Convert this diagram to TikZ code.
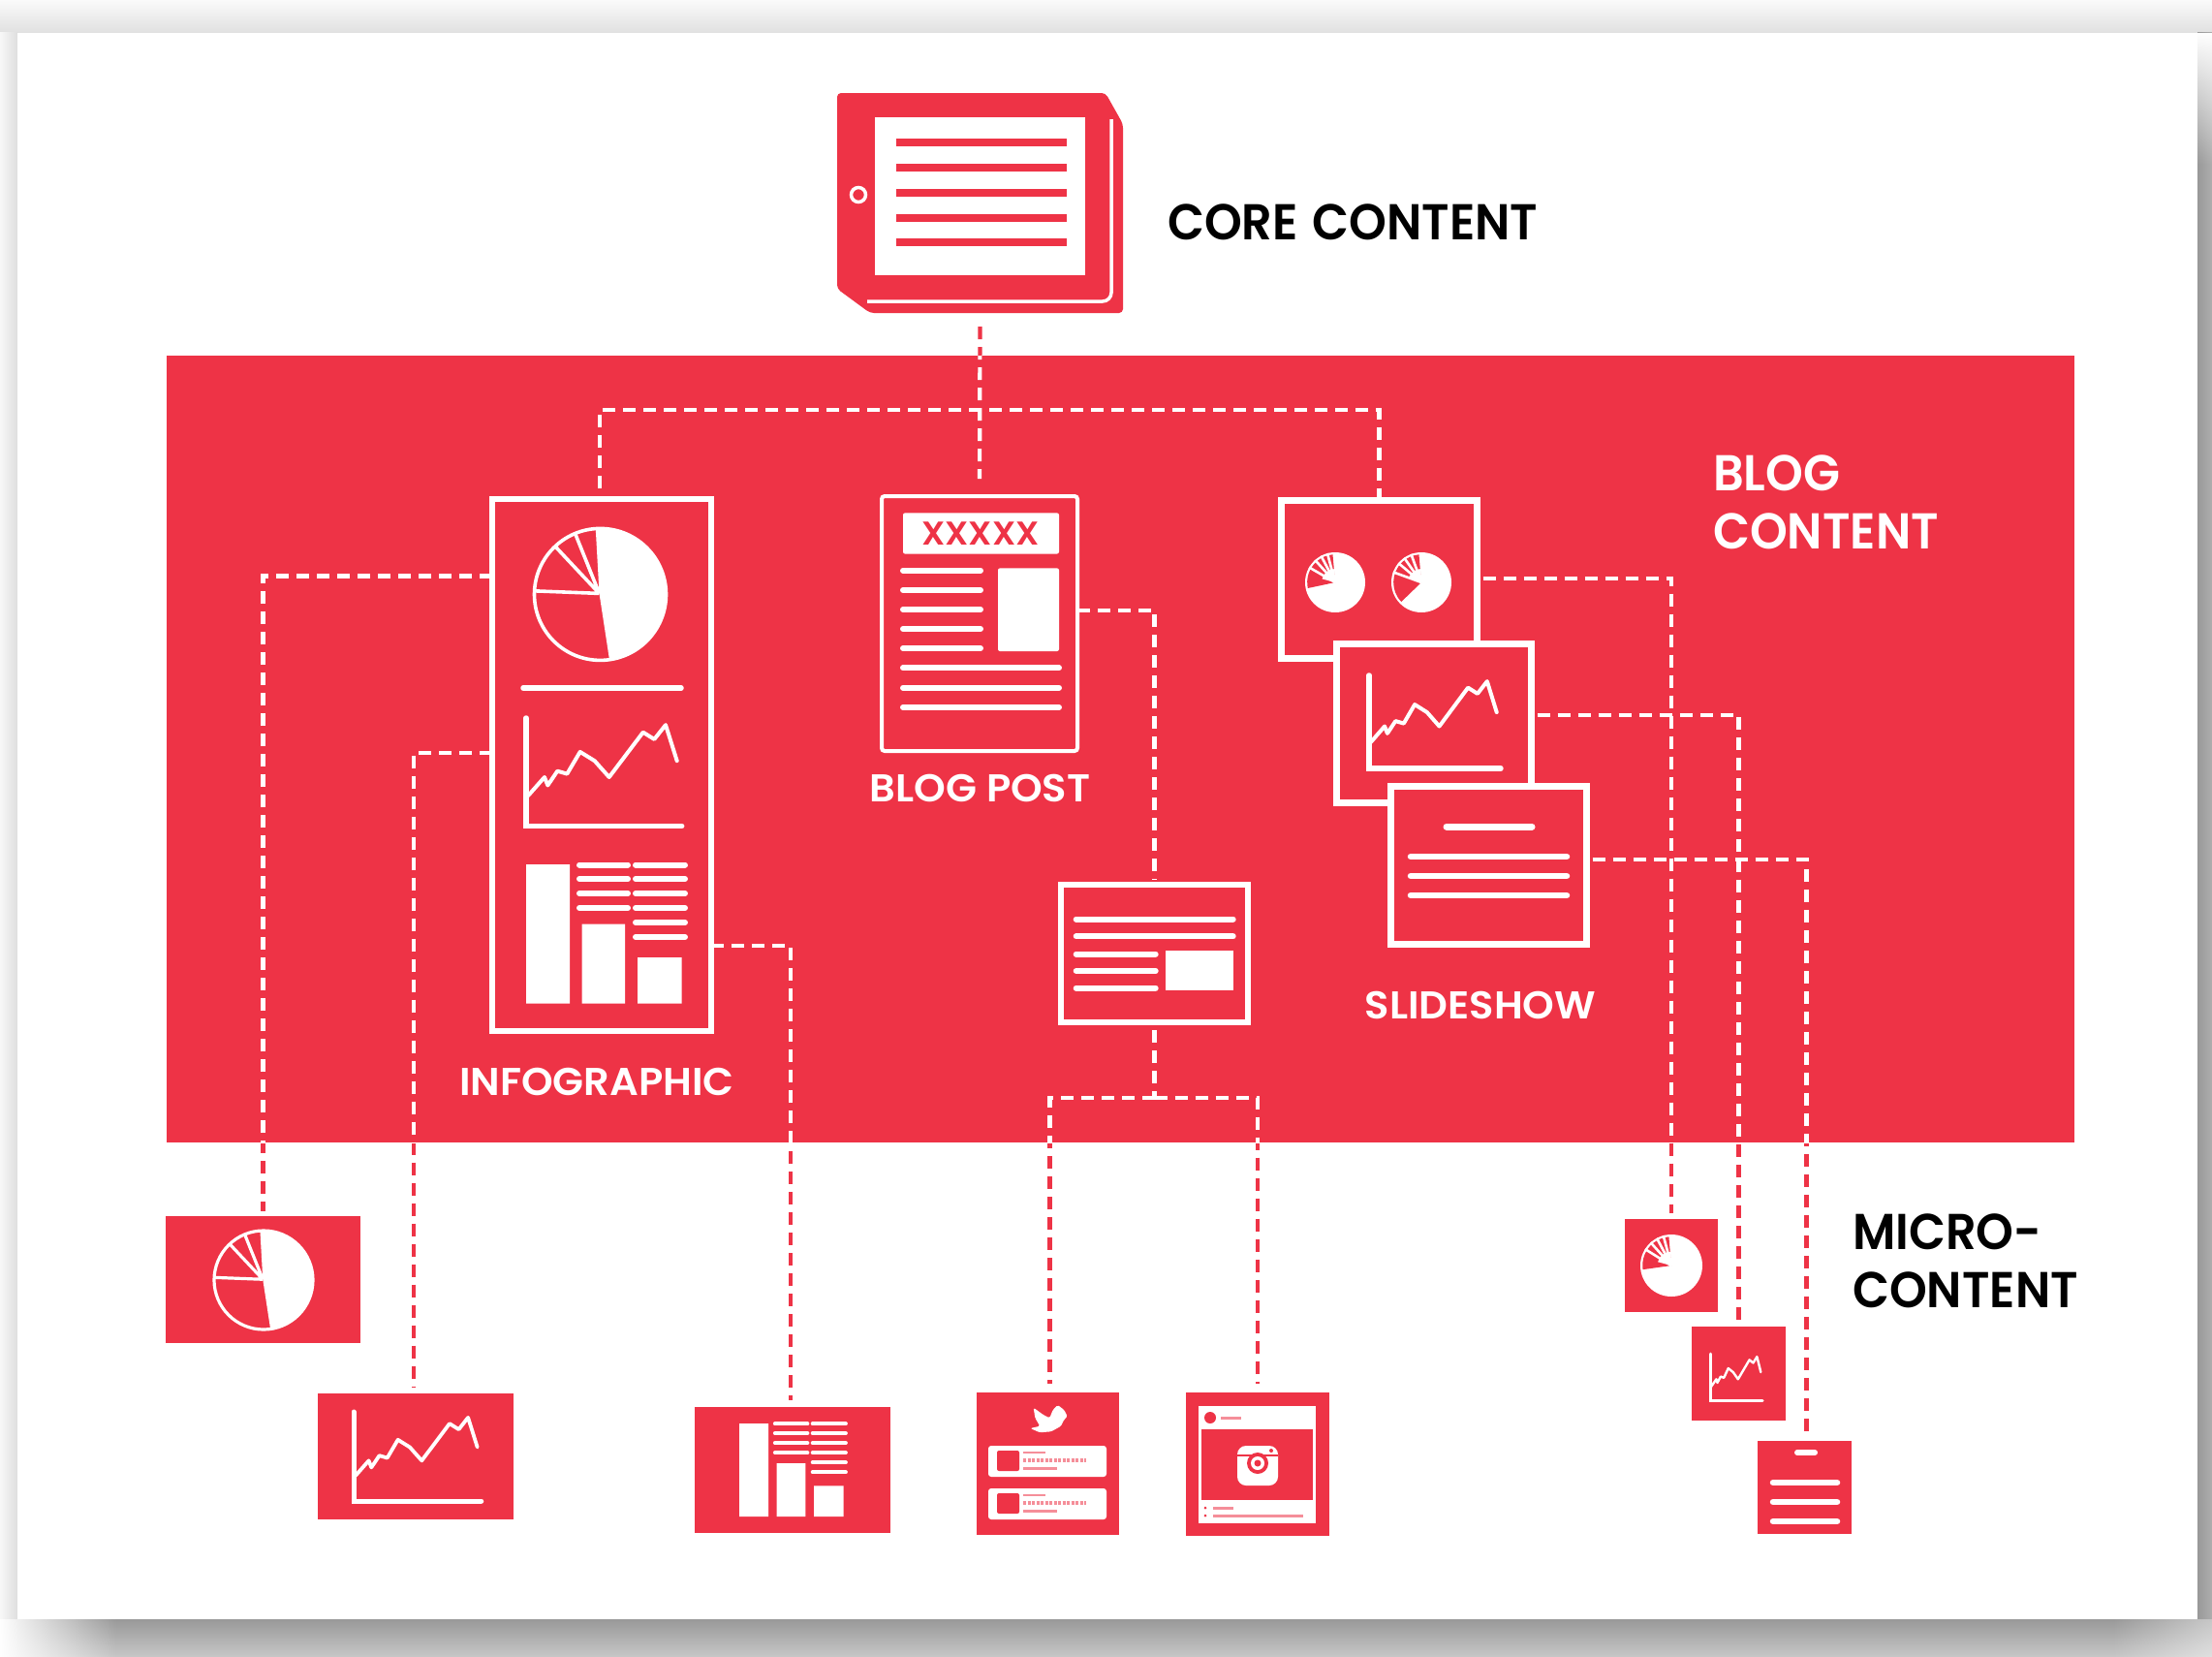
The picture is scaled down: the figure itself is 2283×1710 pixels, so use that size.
\documentclass[tikz,border=0pt]{standalone}
\usepackage{fontspec}
\usetikzlibrary{fadings,calc}
\newfontfamily\lab{Poppins}[UprightFont=* SemiBold, FakeStretch=0.95]
\newfontfamily\labw{Poppins}[UprightFont=* SemiBold, FakeStretch=1.04]
\definecolor{rd}{HTML}{EE3346}
\definecolor{pk}{HTML}{F58E99}
\pgfdeclarelayer{paperlayer}
\pgfdeclarelayer{underlayer}
\pgfdeclarelayer{blocklayer}
\pgfsetlayers{paperlayer,underlayer,blocklayer,main}
\tikzfading[name=fadeR, left color=transparent!0, right color=transparent!100]
\tikzfading[name=fadeD, top color=transparent!0, bottom color=transparent!100]
\tikzfading[name=fadeL, right color=transparent!0, left color=transparent!100]
\tikzset{
  wbox/.style={draw=white,fill=rd,line width=6pt,inner sep=0pt,outer sep=0pt},
  rbox/.style={fill=rd,inner sep=0pt,outer sep=0pt},
  cdash/.style={line width=4.2pt,dash pattern=on 13pt off 8pt},
  wl/.style={draw=white,line width=#1,line cap=round},
  wl/.default=6pt,
  blabel/.style={font=\lab\fontsize{52}{60}\selectfont,text=black,inner sep=0pt,align=left},
  wlabel/.style={font=\labw\fontsize{40}{48}\selectfont,text=white,inner sep=0pt},
}
% connector: red beneath the block, white within it
\newcommand\conn[2][]{%
  \begin{pgfonlayer}{underlayer}\draw[cdash,rd,#1] #2;\end{pgfonlayer}
  \begin{scope}\clip (block.south west) rectangle (block.north east);\draw[cdash,white,#1] #2;\end{scope}}
% line chart: x y xscale yscale axiswidth linewidth
\newcommand\chartshape[6]{%
  \begin{scope}[shift={(#1,#2)},xscale=#3,yscale=#4]
    \draw[wl=#5,line join=miter] (0,-111.5) -- (0,0) -- (160.7,0);
    \draw[wl=#6,line join=round] (2.3,-31.6) -- (19,-50.5) -- (22.3,-42) -- (32.3,-56.8) -- (42.3,-53.9) -- (55.7,-76.6) -- (70.7,-67.3) -- (85.7,-50.5) -- (120.7,-96.8) -- (132.3,-89.6) -- (144,-104.4) -- (155.7,-67.3);
  \end{scope}}
% bars and lines: x y scale linewidth
\newcommand\barshape[4]{%
  \begin{scope}[shift={(#1,#2)},scale=#3]
    \fill[white] (0,0) rectangle (45,143.6) (57.7,61.5) rectangle (102,143.6) (115,96) rectangle (160.7,143.6);
    \foreach \yy in {0.5,15,30,45} {\draw[wl=#4] (55,\yy) -- (105,\yy);}
    \foreach \yy in {0.5,15,30,45,60,75} {\draw[wl=#4] (113,\yy) -- (164,\yy);}
  \end{scope}}
% large pie: x y r outlinewidth
\newcommand\bigpie[4]{%
  \begin{scope}[shift={(#1,#2)},scale=#3/68]
    \fill[white] (-1,-1) -- (-94:68) arc[start angle=-94,end angle=82,radius=68] -- cycle;
    \draw[white,line width=#4] (0,0) circle[radius=68];
    \draw[white,line width=#4] (-1,-1) -- (183:68) (-1,-1) -- (226.8:68) (-1,-1) -- (247.6:68);
  \end{scope}}
% small pie: x y r wedgeStart wedgeEnd ribs
\newcommand\smallpie[6]{%
  \begin{scope}[shift={(#1,#2)}]
    \fill[white] (0,0) circle[radius=#3];
    \fill[rd] (0,0) -- (#4:#3*0.93) arc[start angle=#4,end angle=265,radius=#3*0.93] -- cycle;
    \foreach \aa in {#6} {\draw[white,line width=2.6pt] (0,0) -- (\aa:#3);}
    \fill[white] (0,0) -- (#5:#3*0.45) arc[start angle=#5,end angle=268,radius=#3*0.45] -- cycle;
  \end{scope}}
\begin{document}
\begin{tikzpicture}[x=1pt,y=-1pt]
\useasboundingbox (0,0) rectangle (2283,1710);
% ---- page shadow
\begin{pgfonlayer}{paperlayer}
  \shade[top color=white!98!black,bottom color=white!88!black] (0,0) rectangle (2283,34);
  \shade[left color=white!97!black,right color=white!87!black] (0,34) rectangle (18,1671);
  \shade[left color=white!60!black,right color=white!68!black] (2268,34) rectangle (2283,1671);
  \shade[top color=white!60!black,bottom color=white!78!black] (0,1671) rectangle (2283,1710);
  \fill[white,path fading=fadeD] (2268,34) rectangle (2283,170);
  \fill[white,path fading=fadeR] (0,1671) rectangle (120,1710);
  \fill[white,opacity=.45,path fading=fadeL] (2180,1671) rectangle (2283,1710);
  \fill[white] (18,34) rectangle (2268,1671);
\end{pgfonlayer}
\begin{pgfonlayer}{blocklayer}
  \node[rbox,minimum width=1969pt,minimum height=812pt] (block) at (1156.5,773) {};
\end{pgfonlayer}
% ---- core content tablet
\node[inner sep=0pt,minimum width=295pt,minimum height=227pt] (tablet) at (1011.5,209.5) {};
\fill[rd,rounded corners=4pt] (864,96) -- (1141,96) -- (1159,128) -- (1159,323) -- (898,323) -- (864,298) -- cycle;
\draw[white,line width=3.5pt,rounded corners=9pt] (1147,123) -- (1147,311) -- (895,311);
\fill[white] (903,121) rectangle (1120,284);
\foreach \yy in {147,173,199,225,250} {\draw[rd,line width=8pt] (925,\yy) -- (1101,\yy);}
\draw[white,line width=3.5pt] (886,201) circle[radius=7.5];
\node[blabel,anchor=base west] (corelabel) at (1205,247) {CORE \hspace{3pt}CONTENT};
% ---- infographic
\node[wbox,minimum width=226pt,minimum height=549pt] (infog) at (621,789.5) {};
\bigpie{619.5}{613.4}{68}{3.6pt}
\draw[wl=5.5pt] (540,710) -- (703,710);
\chartshape{543}{852.5}{1}{1}{5.5pt}{4pt}
\barshape{543}{892}{1}{6pt}
\node[wlabel,anchor=base] (inflabel) at (616,1130) {INFOGRAPHIC};
% ---- blog post
\node[wbox,line width=4pt,rounded corners=3pt,minimum width=202pt,minimum height=263pt] (post) at (1011,643.5) {};
\fill[white,rounded corners=2pt] (932,529.4) rectangle (1093,571.5);
\node[inner sep=0pt,text=rd,font=\labw\fontsize{34}{34}\selectfont] (xxx) at (1012,551) {XXXXX};
\foreach \yy in {588.7,609,629,649,669} {\draw[wl=6pt] (932,\yy) -- (1012,\yy);}
\foreach \yy in {689.4,709.7,730} {\draw[wl=6pt] (932,\yy) -- (1093,\yy);}
\fill[white,rounded corners=2pt] (1030,586.4) rectangle (1093,672);
\node[wlabel,anchor=base] (postlabel) at (1011.5,827) {BLOG POST};
% ---- sub-post box
\node[wbox,minimum width=193pt,minimum height=142pt] (sub) at (1191.5,984) {};
\foreach \yy in {948.5,966.4} {\draw[wl=6pt] (1110.7,\yy) -- (1272.7,\yy);}
\foreach \yy in {984.5,1002,1019.6} {\draw[wl=6pt] (1110.7,\yy) -- (1192.7,\yy);}
\fill[white] (1203,981) rectangle (1272.7,1022);
% ---- slideshow
\node[wbox,line width=7pt,minimum width=202pt,minimum height=163pt] (s1) at (1423.5,598) {};
\smallpie{1378}{601}{31}{168}{195}{210,228,242,255}
\smallpie{1467}{601}{31}{136}{200}{200,220,235,250}
\node[wbox,line width=7pt,minimum width=201pt,minimum height=164pt] (s2) at (1480,746.5) {};
\chartshape{1413}{793}{.846}{.861}{5.5pt}{4pt}
\node[wbox,line width=7pt,minimum width=202pt,minimum height=163pt] (s3) at (1536.5,893) {};
\draw[wl=7pt] (1493,853) -- (1581,853);
\foreach \yy in {884,904,924} {\draw[wl=6.5pt] (1456,\yy) -- (1617,\yy);}
\node[wlabel,anchor=base] (sslabel) at (1528,1051) {SLIDESHOW};
\node[blabel,text=white,anchor=north west] (bloglabel) at (1768,469) {BLOG\\CONTENT};
\node[blabel,anchor=north west] (microlabel) at (1912,1252) {MICRO-\\CONTENT};
% ---- micro-content
\node[rbox,minimum width=201pt,minimum height=131pt] (mpie) at (271.5,1320.5) {};
\bigpie{272}{1321}{51}{3.2pt}
\node[rbox,minimum width=202pt,minimum height=130pt] (mchart) at (429,1503) {};
\chartshape{365}{1549}{.82}{.825}{5pt}{3.8pt}
\node[rbox,minimum width=202pt,minimum height=130pt] (mbars) at (818,1517) {};
\barshape{763}{1469}{.67}{4pt}
% twitter
\node[rbox,minimum width=147pt,minimum height=147pt] (mtw) at (1081.5,1510.5) {};
\fill[white,rounded corners=1.5pt] (1063.3,1474) -- (1073.3,1471.7) -- (1068.3,1463.3) -- (1066.7,1452.7) -- (1076.7,1460) -- (1083.3,1463.3) -- (1086.7,1455) -- (1091.7,1450) -- (1098.3,1455) -- (1101.7,1461.7) -- (1098.3,1465) -- (1095,1471.7) -- (1085,1477.3) -- (1073.3,1478.3) -- cycle;
\foreach \oy in {0,44} {
  \begin{scope}[yshift=-\oy pt]
    \fill[white,rounded corners=3pt] (1020,1492) rectangle (1142,1524);
    \fill[rd,rounded corners=2pt] (1029,1497) rectangle (1052,1518);
    \draw[pk,line width=2.5pt] (1056,1499) -- (1079,1499);
    \draw[pk,line width=4pt,dash pattern=on 3pt off 1.5pt] (1056,1507) -- (1121,1507);
    \draw[pk,line width=3pt] (1056,1515) -- (1091,1515);
  \end{scope}}
% instagram
\node[rbox,minimum width=148pt,minimum height=148pt] (mig) at (1298,1511) {};
\fill[white] (1237,1451) rectangle (1358,1572);
\fill[rd] (1240,1475) rectangle (1355,1548);
\fill[rd] (1249,1463) circle[radius=6];
\draw[pk,line width=3pt] (1260,1463) -- (1281,1463);
\fill[rd] (1244,1556) circle[radius=1.5] (1244,1564) circle[radius=1.5];
\draw[pk,line width=3pt] (1252,1556) -- (1273,1556) (1252,1564) -- (1345,1564);
\fill[white,rounded corners=9pt] (1277,1492) rectangle (1319,1533);
\draw[rd,line width=1.5pt] (1277,1502) -- (1319,1502);
\fill[rd] (1298,1510) circle[radius=11];
\fill[white] (1298,1510) circle[radius=7];
\fill[rd] (1298,1510) circle[radius=3.5];
\fill[rd] (1312,1497) circle[radius=2];
% right-hand micro items
\node[rbox,minimum width=96pt,minimum height=96pt] (mp2) at (1725,1306) {};
\smallpie{1725}{1306}{32}{172}{195}{212,228,242,255}
\node[rbox,minimum width=97pt,minimum height=97pt] (mc2) at (1794.5,1417.5) {};
\chartshape{1765}{1445}{.336}{.43}{3pt}{2.4pt}
\node[rbox,minimum width=97pt,minimum height=96pt] (mt2) at (1862.5,1535) {};
\draw[wl=6pt] (1855,1499) -- (1873,1499);
\foreach \yy in {1530,1550,1570} {\draw[wl=6.5pt] (1830,\yy) -- (1896,\yy);}
% ---- connectors
\conn[shorten <=14pt,shorten >=18pt]{(tablet.south) -- (post.north)}
\conn[shorten <=11pt]{([xshift=-2pt]infog.north) |- (tablet.south |- 0,423) -| (s1.north)}
\conn[shorten >=5pt]{(infog.west |- 0,594.5) -| (mpie.north)}
\conn[shorten >=6pt]{(infog.west |- 0,776.7) -| ([xshift=-2pt]mchart.north)}
\conn[shorten >=7pt]{(infog.east |- 0,976) -| ([xshift=-2pt]mbars.north)}
\conn[shorten >=5pt]{(post.east |- 0,629.7) -| (sub.north)}
\conn[shorten <=8pt]{(sub.south) -- (sub.south |- 0,1133)}
\conn[shorten >=9pt]{(sub.south |- 0,1133) -| ([xshift=2pt]mtw.north)}
\conn[shorten >=9pt]{(sub.south |- 0,1133) -| (mig.north)}
\conn[shorten <=6pt,shorten >=6pt]{(s1.east |- 0,597) -| (mp2.north)}
\conn[shorten <=6pt,shorten >=6pt]{(s2.east |- 0,738) -| (mc2.north)}
\conn[shorten <=6pt,shorten >=9pt]{(s3.east |- 0,887) -| ([xshift=2pt]mt2.north)}
\end{tikzpicture}
\end{document}
